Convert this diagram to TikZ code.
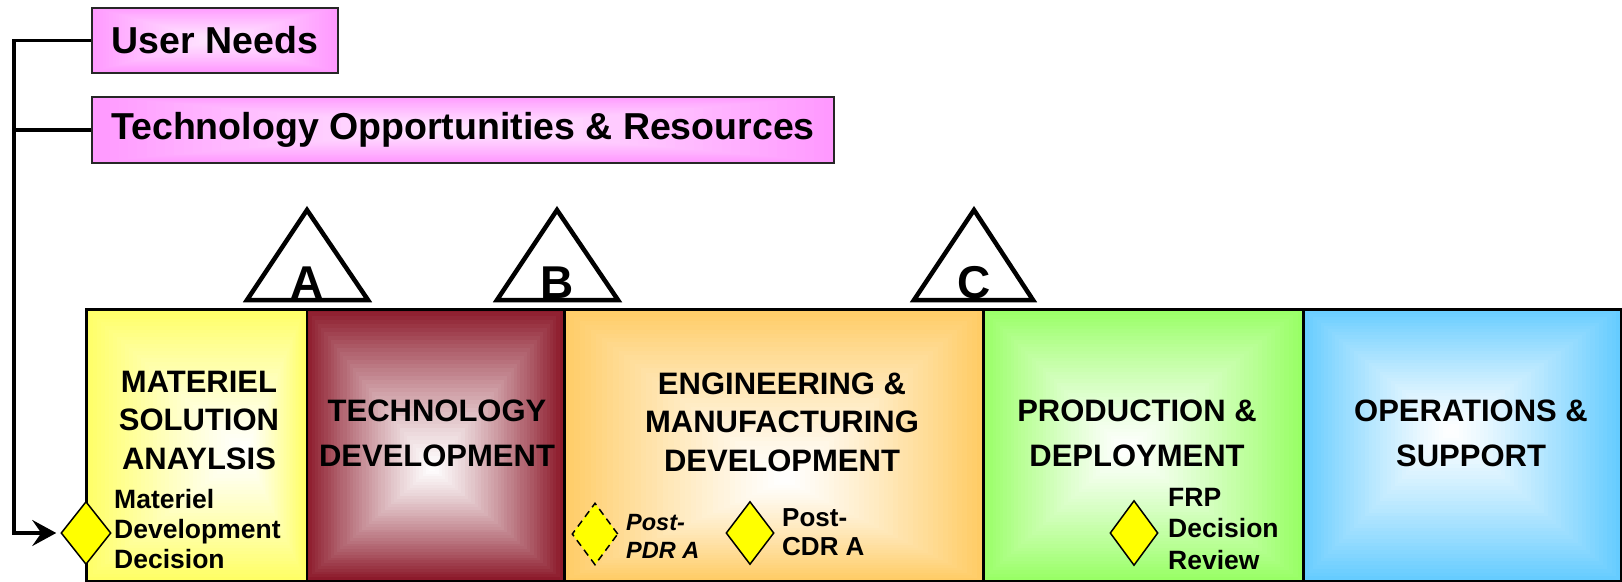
\documentclass[tikz,border=0pt]{standalone}
\usepackage{fontspec}
\setmainfont{Liberation Sans}
\usetikzlibrary{shapes.geometric,arrows.meta}
\definecolor{msaY}{HTML}{FFFF66}
\definecolor{tdR}{HTML}{8C1A2B}
\definecolor{emdO}{HTML}{FFCC66}
\definecolor{pdG}{HTML}{99FF66}
\definecolor{osB}{HTML}{66CCFF}
\definecolor{pinkE}{HTML}{FF99FF}
\definecolor{pinkC}{HTML}{FFE6FF}
\definecolor{diaY}{HTML}{FFFF00}
% x1 y1 x2 y2 cx cy outer inner
\newcommand\gradrect[8]{%
  \foreach \gi in {0,...,40}{%
    \pgfmathsetmacro\gf{1-\gi/40}%
    \pgfmathtruncatemacro\gp{100*(\gf^1.2)}%
    \fill[#7!\gp!#8] ({#5+(#1-#5)*\gf},{#6+(#2-#6)*\gf}) rectangle ({#5+(#3-#5)*\gf},{#6+(#4-#6)*\gf});
  }%
}
\begin{document}
\begin{tikzpicture}[x=1pt,y=-1pt,
  phasebox/.style={draw=black, line width=2.5, anchor=north west, inner sep=0},
  topbox/.style={draw=black!85, line width=2, anchor=north west, inner sep=0,
    font=\bfseries\fontsize{37.5}{43}\selectfont},
  phasetext/.style={font=\bfseries\fontsize{31}{38.5}\selectfont, align=center, inner sep=0},
  widetext/.style={font=\bfseries\fontsize{31}{45}\selectfont, align=center, inner sep=0},
  smalltext/.style={font=\bfseries\fontsize{26.5}{30}\selectfont, align=left, anchor=north west, inner sep=0},
  milestone/.style={diamond, draw=black, line width=1.5, fill=diaY, inner sep=0, aspect=0.8},
  tri/.style={draw=black, line width=4.5, fill=white},
  letter/.style={font=\bfseries\fontsize{46}{50}\selectfont, anchor=base, inner sep=0},
  conn/.style={draw=black, line width=3.5},
]
\useasboundingbox (0,0) rectangle (1622,581);
\fill[white] (0,0) rectangle (1622,581);

% gradients
\gradrect{91}{7}{337}{72}{214}{40}{pinkE}{pinkC}
\gradrect{91}{96}{833}{162}{462}{129}{pinkE}{pinkC}
\gradrect{85}{308}{305.5}{580}{245}{452}{msaY}{white}
\gradrect{305.5}{308}{563}{580}{432}{468}{tdR}{white}
\gradrect{563}{308}{982}{580}{785}{480}{emdO}{white}
\gradrect{982}{308}{1302}{580}{1125}{450}{pdG}{white}
\gradrect{1302}{308}{1620}{580}{1450}{430}{osB}{white}

% top boxes
\node[topbox, minimum width=246, minimum height=65] (un) at (91,7) {User Needs};
\node[topbox, minimum width=742, minimum height=66] (tor) at (91,96) {Technology Opportunities \& Resources};

% phase boxes
\node[phasebox, minimum width=220.5, minimum height=272] (msa) at (85,308) {};
\node[phasebox, minimum width=257.5, minimum height=272] (td) at (305.5,308) {};
\node[phasebox, minimum width=419, minimum height=272] (emd) at (563,308) {};
\node[phasebox, minimum width=320, minimum height=272] (pd) at (982,308) {};
\node[phasebox, minimum width=318, minimum height=272] (os) at (1302,308) {};

% phase texts
\node[phasetext] (msat) at (199,420) {MATERIEL\\SOLUTION\\ANAYLSIS};
\node[widetext] (tdt) at (437,433.5) {TECHNOLOGY\\DEVELOPMENT};
\node[phasetext] (emdt) at (782,422) {ENGINEERING \&\\MANUFACTURING\\DEVELOPMENT};
\node[widetext] (pdt) at (1137,433.5) {PRODUCTION \&\\DEPLOYMENT};
\node[widetext] (ost) at (1471,433.5) {OPERATIONS \&\\SUPPORT};

% milestones triangles
\draw[tri] (307,210) -- (247,300) -- (368,300) -- cycle;
\node[letter] (msA) at (307,298) {A};
\draw[tri] (557,210) -- (497,300) -- (618,300) -- cycle;
\node[letter] (msB) at (557,298) {B};
\draw[tri] (974,210) -- (914,300) -- (1033,300) -- cycle;
\node[letter] (msC) at (974,298) {C};

% decision diamonds
\node[milestone, minimum width=50, minimum height=63] (mdd) at (86,533) {};
\node[smalltext] (mddt) at (114,489) {Materiel\\Development\\Decision};
\node[milestone, dashed, dash pattern=on 7pt off 5pt, minimum width=46, minimum height=62] (pdr) at (595,534) {};
\node[smalltext, font=\bfseries\itshape\fontsize{23.5}{28}\selectfont] (pdrt) at (626,514) {Post-\\PDR A};
\node[milestone, minimum width=48, minimum height=63] (cdr) at (750,533) {};
\node[smalltext, font=\bfseries\fontsize{26}{29}\selectfont] (cdrt) at (782,508) {Post-\\CDR A};
\node[milestone, minimum width=48, minimum height=65] (frp) at (1134,533) {};
\node[smalltext, font=\bfseries\fontsize{26.5}{31.5}\selectfont] (frpt) at (1168,488) {FRP\\Decision\\Review};

% connectors
\coordinate (sp) at (14,0);
\draw[conn, -{Stealth[length=24,width=26,inset=9]}, shorten >=4] (un.west) -- (un.west -| sp) |- (mdd.west);
\draw[conn] (tor.west) -- (tor.west -| sp);
\end{tikzpicture}
\end{document}
